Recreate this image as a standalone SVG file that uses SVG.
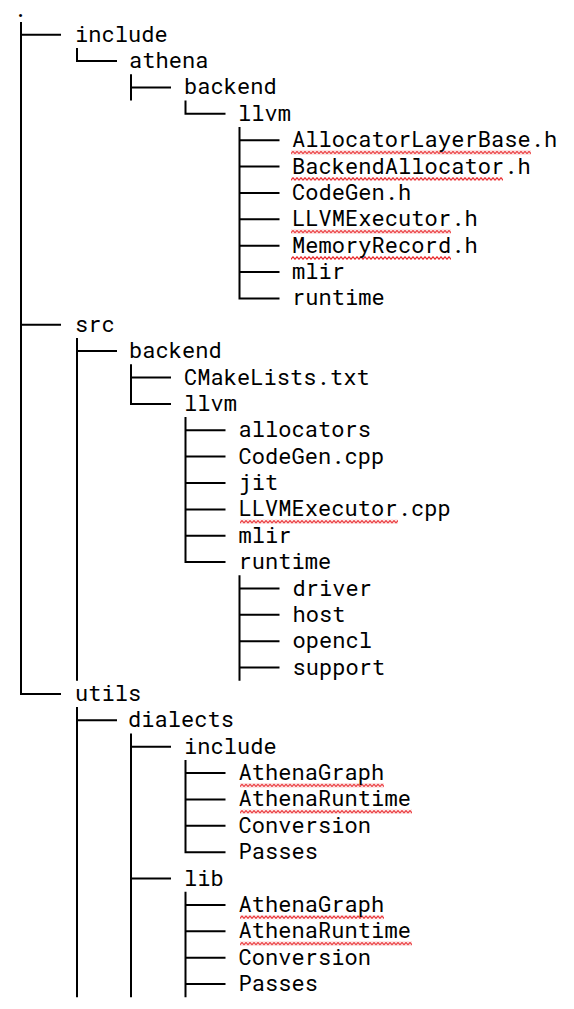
<svg xmlns="http://www.w3.org/2000/svg" width="574" height="1009" viewBox="0 0 574 1009">
<style>
text{font-family:"Roboto Mono","DejaVu Sans Mono","Liberation Mono",monospace;font-size:22px;fill:#000;letter-spacing:0.06px}
.ln{stroke:#000;stroke-width:2;fill:none}
.sq{fill:url(#zz)}
</style>
<defs>
<pattern id="zz" x="0" y="0" width="4" height="4" patternUnits="userSpaceOnUse">
<path d="M-1,1.5 L0,3.2 L2,0.8 L4,3.2 L5,1.5" stroke="#e8262a" stroke-width="1.2" fill="none"/>
</pattern>
</defs>
<rect width="574" height="1009" fill="#fff"/>
<g id="connectors" class="ln">
<path d="M21 22V694M20 34.7h41M20 324.8h41M20 694h41"/>
<path d="M77 47.9V61.1M76 61.1h41M77 337.9V680.8M76 351.1h41M77 707.1V997.2M76 720.3h41"/>
<path d="M131 74.2V100.6M130 87.4h41M131 364.3V403.9M130 377.5h41M130 403.9h41M131 733.5V997.2M130 746.7h41M130 878.5h41"/>
<path d="M185.5 100.6V113.8M184.5 113.8h41M185.5 417.1V562.1M184.5 430.3h41M184.5 456.6h41M184.5 483h41M184.5 509.4h41M184.5 535.7h41M184.5 562.1h41M185.5 759.9V852.2M184.5 773.1h41M184.5 799.4h41M184.5 825.8h41M184.5 852.2h41M185.5 891.7V997.2M184.5 904.9h41M184.5 931.3h41M184.5 957.7h41M184.5 984h41"/>
<path d="M239.5 127V298.4M238.5 140.2h41M238.5 166.6h41M238.5 192.9h41M238.5 219.3h41M238.5 245.7h41M238.5 272h41M238.5 298.4h41M239.5 575.3V680.8M238.5 588.5h41M238.5 614.8h41M238.5 641.2h41M238.5 667.6h41"/>
</g>
<g id="squiggles">
<rect class="sq" transform="translate(291,150.5)" width="240" height="4"/>
<rect class="sq" transform="translate(291,176.9)" width="212" height="4"/>
<rect class="sq" transform="translate(291,229.6)" width="160" height="4"/>
<rect class="sq" transform="translate(291,256)" width="160" height="4"/>
<rect class="sq" transform="translate(240,519.7)" width="158" height="4"/>
<rect class="sq" transform="translate(240,783.4)" width="144" height="4"/>
<rect class="sq" transform="translate(240,809.7)" width="172" height="4"/>
<rect class="sq" transform="translate(240,915.2)" width="144" height="4"/>
<rect class="sq" transform="translate(240,941.6)" width="172" height="4"/>
</g>
<g id="n-root"><text x="15.7" y="16.5" style="font-size:16px;font-weight:bold">.</text></g>
<g id="n-include"><text x="75" y="41.7">include</text></g>
<g id="n-athena"><text x="129" y="68.1">athena</text></g>
<g id="n-backend"><text x="184" y="94.4">backend</text></g>
<g id="n-llvm"><text x="238" y="120.8">llvm</text></g>
<g id="n-allocatorlayerbase"><text x="292" y="147.2">AllocatorLayerBase.h</text></g>
<g id="n-backendallocator"><text x="292" y="173.6">BackendAllocator.h</text></g>
<g id="n-codegen-h"><text x="292" y="199.9">CodeGen.h</text></g>
<g id="n-llvmexecutor-h"><text x="292" y="226.3">LLVMExecutor.h</text></g>
<g id="n-memoryrecord"><text x="292" y="252.7">MemoryRecord.h</text></g>
<g id="n-mlir-inc"><text x="292" y="279">mlir</text></g>
<g id="n-runtime-inc"><text x="292" y="305.4">runtime</text></g>
<g id="n-src"><text x="75" y="331.8">src</text></g>
<g id="n-src-backend"><text x="129" y="358.1">backend</text></g>
<g id="n-cmakelists"><text x="184" y="384.5">CMakeLists.txt</text></g>
<g id="n-src-llvm"><text x="184" y="410.9">llvm</text></g>
<g id="n-allocators"><text x="238.5" y="437.3">allocators</text></g>
<g id="n-codegen-cpp"><text x="238.5" y="463.6">CodeGen.cpp</text></g>
<g id="n-jit"><text x="238.5" y="490">jit</text></g>
<g id="n-llvmexecutor-cpp"><text x="238.5" y="516.4">LLVMExecutor.cpp</text></g>
<g id="n-mlir-src"><text x="238.5" y="542.7">mlir</text></g>
<g id="n-runtime-src"><text x="238.5" y="569.1">runtime</text></g>
<g id="n-driver"><text x="292.5" y="595.5">driver</text></g>
<g id="n-host"><text x="292.5" y="621.8">host</text></g>
<g id="n-opencl"><text x="292.5" y="648.2">opencl</text></g>
<g id="n-support"><text x="292.5" y="674.6">support</text></g>
<g id="n-utils"><text x="75" y="701">utils</text></g>
<g id="n-dialects"><text x="128" y="727.3">dialects</text></g>
<g id="n-d-include"><text x="184" y="753.7">include</text></g>
<g id="n-inc-athenagraph"><text x="238.5" y="780.1">AthenaGraph</text></g>
<g id="n-inc-athenaruntime"><text x="238.5" y="806.4">AthenaRuntime</text></g>
<g id="n-inc-conversion"><text x="238.5" y="832.8">Conversion</text></g>
<g id="n-inc-passes"><text x="238.5" y="859.2">Passes</text></g>
<g id="n-lib"><text x="184" y="885.5">lib</text></g>
<g id="n-lib-athenagraph"><text x="238.5" y="911.9">AthenaGraph</text></g>
<g id="n-lib-athenaruntime"><text x="238.5" y="938.3">AthenaRuntime</text></g>
<g id="n-lib-conversion"><text x="238.5" y="964.7">Conversion</text></g>
<g id="n-lib-passes"><text x="238.5" y="991">Passes</text></g>
</svg>
